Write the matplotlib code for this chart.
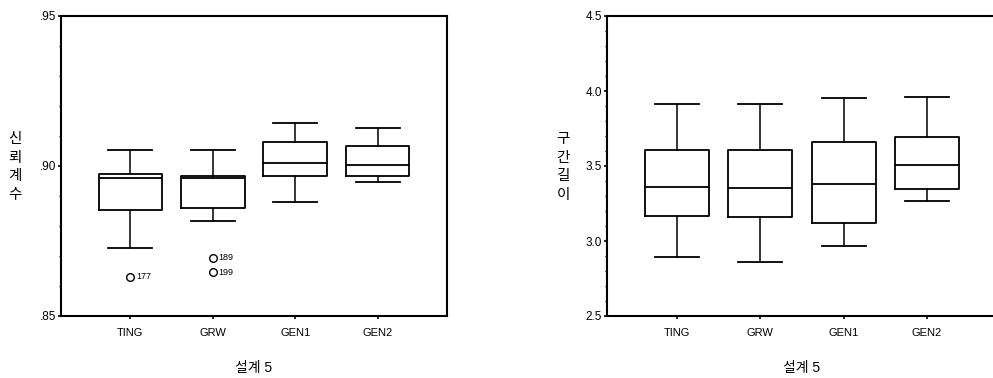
import matplotlib
matplotlib.use("Agg")
from matplotlib import pyplot as plt
from matplotlib.ticker import MultipleLocator, FuncFormatter

plt.rcParams['font.family'] = ['Liberation Sans', 'Noto Sans CJK KR', 'DejaVu Sans']

# categories
groups = ["TING", "GRW", "GEN1", "GEN2"]

# left panel: 신뢰계수 (coverage)
cov_whislo = [0.8726, 0.8817, 0.8880, 0.8947]
cov_q1 = [0.8852, 0.8861, 0.8968, 0.8967]
cov_med = [0.8959, 0.8959, 0.9011, 0.9003]
cov_q3 = [0.8972, 0.8967, 0.9081, 0.9067]
cov_whishi = [0.9053, 0.9053, 0.9143, 0.9127]
cov_outliers = [[0.8631], [0.8694, 0.8646], [], []]
cov_outlier_ids = [["177"], ["189", "199"], [], []]

# right panel: 구간길이 (interval length)
len_whislo = [2.895, 2.862, 2.967, 3.265]
len_q1 = [3.169, 3.158, 3.118, 3.347]
len_med = [3.358, 3.356, 3.380, 3.505]
len_q3 = [3.605, 3.605, 3.662, 3.693]
len_whishi = [3.913, 3.913, 3.951, 3.958]


def make_stats(lo, q1, med, q3, hi, fl=None):
    stats = []
    for i in range(len(groups)):
        stats.append(dict(whislo=lo[i], q1=q1[i], med=med[i], q3=q3[i],
                          whishi=hi[i], fliers=(fl[i] if fl else [])))
    return stats


fig = plt.figure(figsize=(9.93, 3.78), dpi=100)
W, H = 993.0, 378.0
ax1 = fig.add_axes([61 / W, (H - 316) / H, 386 / W, 300 / H])
ax2 = fig.add_axes([607 / W, (H - 316) / H, 390 / W, 300 / H])

lw = 1.3
box_kw = dict(widths=0.77, showfliers=True, patch_artist=False,
              boxprops=dict(color='black', lw=lw),
              medianprops=dict(color='black', lw=lw),
              whiskerprops=dict(color='black', lw=1.1),
              capprops=dict(color='black', lw=lw),
              flierprops=dict(marker='o', markerfacecolor='white',
                              markeredgecolor='black', markersize=5.5, mew=1.0))

pos = [1, 2, 3, 4]
ax1.bxp(make_stats(cov_whislo, cov_q1, cov_med, cov_q3, cov_whishi, cov_outliers),
        positions=pos, capwidths=0.53, **box_kw)
ax2.bxp(make_stats(len_whislo, len_q1, len_med, len_q3, len_whishi),
        positions=pos, capwidths=0.53, **box_kw)

# outlier case numbers
for i in range(len(groups)):
    for v, lab in zip(cov_outliers[i], cov_outlier_ids[i]):
        ax1.text(pos[i] + 0.07, v, lab, fontsize=6.5, va='center', ha='left')

for ax in (ax1, ax2):
    ax.set_xlim(0.16, 4.84)
    ax.set_xticks(pos)
    ax.set_xticklabels(groups, fontsize=8)
    ax.tick_params(axis='x', direction='out', length=2.5, width=1.2, pad=6)
    ax.tick_params(axis='y', which='major', direction='out', length=2.5, width=1.2,
                   labelsize=8.5, pad=1)
    ax.tick_params(axis='y', which='minor', direction='out', length=1.5, width=1.0)
    for s in ax.spines.values():
        s.set_linewidth(1.5)
    ax.set_xlabel("설계 5", fontsize=10, labelpad=17)

ax1.set_ylim(0.85, 0.95)
ax1.yaxis.set_major_locator(MultipleLocator(0.05))
ax1.yaxis.set_minor_locator(MultipleLocator(0.01))
ax1.yaxis.set_major_formatter(FuncFormatter(lambda v, p: ("%.2f" % v).lstrip('0')))

ax2.set_ylim(2.5, 4.5)
ax2.yaxis.set_major_locator(MultipleLocator(0.5))
ax2.yaxis.set_minor_locator(MultipleLocator(0.1))
ax2.yaxis.set_major_formatter(FuncFormatter(lambda v, p: "%.1f" % v))

# stacked vertical y labels
fig.text(15 / W, 1 - 167 / H, "신\n뢰\n계\n수", fontsize=10.5, ha='center', va='center',
         linespacing=1.4)
fig.text(563 / W, 1 - 167 / H, "구\n간\n길\n이", fontsize=10.5, ha='center', va='center',
         linespacing=1.4)

fig.savefig("out.png", dpi=100)
